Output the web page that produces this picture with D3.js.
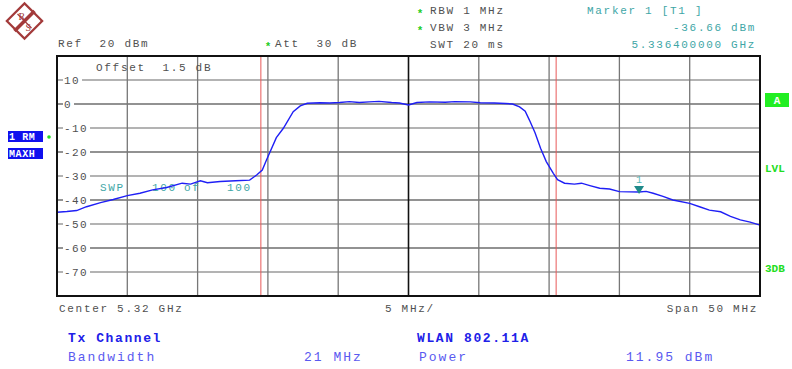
<!DOCTYPE html>
<html>
<head>
<meta charset="utf-8">
<script src="https://cdn.jsdelivr.net/npm/d3@7"></script>
<style>
  body { margin: 0; background: #fff; }
  svg { display: block; }
  text { font-family: "Liberation Mono", "DejaVu Sans Mono", monospace; }
  .hdr { font-size: 11px; letter-spacing: 1.7px; fill: #505050; }
  .teal { font-size: 11px; letter-spacing: 1.7px; fill: #3ea6a6; }
  .tick { font-size: 11px; letter-spacing: 1.4px; fill: #505050; }
  .foot { font-size: 13px; letter-spacing: 2px; fill: #5a5af0; }
  .footb { font-size: 13px; letter-spacing: 1.6px; fill: #2020e8; font-weight: bold; }
</style>
</head>
<body>
<svg id="chart" width="792" height="369"></svg>
<script>
// trace: offset from centre (MHz) and level (dBm)
const freqMHz = [-25, -24.3, -23.6, -22.9, -21.9, -21.0, -20.0, -19.1, -18.2, -17.2, -16.1, -15.5, -14.8, -14.3,
  -13.4, -12.3, -11.3, -10.8, -10.4, -10.1, -9.4, -8.9, -8.2, -7.7, -7.2, -6.3, -5.6, -4.9, -4.2, -3.5, -2.8,
  -2.1, -1.2, -0.65, 0, 0.6, 1.5, 2.6, 3.3, 4.4, 5.1, 6.1, 6.9, 7.4, 7.9, 8.3, 8.6, 9.0, 9.4, 9.8, 10.3, 10.6,
  11.1, 11.8, 12.3, 12.9, 13.6, 14.3, 15.0, 15.7, 16.4, 16.9, 17.4, 18.1, 18.8, 20.0, 20.7, 21.4, 22.2, 22.9,
  23.6, 24.3, 25];
const levelDbm = [-45.1, -44.8, -44.4, -42.8, -41.1, -39.8, -38.2, -37.2, -35.8, -34.8, -33.0, -33.4, -32.0, -32.8,
  -32.3, -32.0, -31.7, -29.6, -27.5, -23.3, -14.0, -10.1, -3.2, -0.8, 0.3, 0.5, 0.4, 0.6, 1.0, 0.6, 0.9,
  1.1, 0.6, 0.4, -0.4, 0.6, 0.9, 0.7, 1.0, 0.9, 0.5, 0.4, 0.2, 0.0, -1.2, -3.0, -6.7, -12.0, -18.5, -24.0, -28.9, -31.5,
  -33.0, -33.4, -33.0, -34.0, -35.1, -35.4, -36.5, -36.6, -36.66, -36.4, -37.2, -38.5, -40.0, -41.4, -42.8, -44.2, -44.9, -46.8,
  -48.3, -49.2, -50.5];

const xGrid = [-25, -20, -15, -10, -5, 0, 5, 10, 15, 20, 25];
const yTicks = [10, 0, -10, -20, -30, -40, -50, -60, -70];
const channelEdges = [-10.5, 10.5];
const marker = { f: 16.4, level: -36.66, label: '1' };

const svg = d3.select('#chart');
const x = d3.scaleLinear().domain([-25, 25]).range([57, 760]);
const y = d3.scaleLinear().domain([-80, 20]).range([296, 56]);

// R&S logo
const logo = svg.append('g').attr('transform', 'translate(24.5,21)');
logo.append('rect').attr('x', -12.5).attr('y', -12.5).attr('width', 25).attr('height', 25)
  .attr('transform', 'rotate(45)').attr('fill', 'none').attr('stroke', '#a33a3a').attr('stroke-width', 2.2);
logo.append('line').attr('x1', 10).attr('y1', -10).attr('x2', -10).attr('y2', 10)
  .attr('stroke', '#a33a3a').attr('stroke-width', 3.5);
logo.append('line').attr('x1', -7).attr('y1', -7).attr('x2', 7).attr('y2', 7)
  .attr('stroke', '#a33a3a').attr('stroke-width', 1.2);
logo.append('text').attr('x', -6).attr('y', -1).text('R').attr('fill', '#a33a3a')
  .style('font-size', '10px').style('font-family', 'Liberation Serif');
logo.append('text').attr('x', 1).attr('y', 10).text('S').attr('fill', '#a33a3a')
  .style('font-size', '10px').style('font-family', 'Liberation Serif');

// header
svg.append('text').attr('class', 'hdr').attr('x', 58).attr('y', 47).text('Ref  20 dBm').style('white-space', 'pre');
svg.append('text').attr('class', 'hdr').attr('x', 275).attr('y', 47).text('Att  30 dB').style('white-space', 'pre');
svg.append('text').attr('class', 'hdr').attr('x', 430).attr('y', 14).text('RBW 1 MHz');
svg.append('text').attr('class', 'hdr').attr('x', 430).attr('y', 31).text('VBW 3 MHz');
svg.append('text').attr('class', 'hdr').attr('x', 430).attr('y', 48).text('SWT 20 ms');
[[268, 44], [420, 11], [420, 28]].forEach(([cx, cy]) => {
  svg.append('text').attr('x', cx).attr('y', cy + 6).text('*').attr('text-anchor', 'middle')
    .style('font-size', '11px').attr('fill', '#22cc22').style('font-weight', 'bold');
});
svg.append('text').attr('class', 'teal').attr('x', 587).attr('y', 14).text('Marker 1 [T1 ]');
svg.append('text').attr('class', 'teal').attr('x', 756).attr('y', 31).attr('text-anchor', 'end').text('-36.66 dBm');
svg.append('text').attr('class', 'teal').attr('x', 756).attr('y', 48).attr('text-anchor', 'end').text('5.336400000 GHz');

// left side boxes
[['1 RM', 131], ['MAXH', 148]].forEach(([t, yy]) => {
  svg.append('rect').attr('x', 8).attr('y', yy).attr('width', 35).attr('height', 11).attr('fill', '#1010ee');
  svg.append('text').attr('x', 9).attr('y', yy + 9).text(t).attr('fill', '#fff')
    .style('font-size', '10px').style('font-weight', 'bold').style('letter-spacing', '0.6px');
});
svg.append('circle').attr('cx', 49).attr('cy', 137).attr('r', 1.8).attr('fill', '#22dd22');

// right side indicators
svg.append('rect').attr('x', 765).attr('y', 93).attr('width', 24).attr('height', 14).attr('fill', '#22ee22');
svg.append('text').attr('x', 777).attr('y', 104).attr('text-anchor', 'middle').text('A')
  .attr('fill', '#fff').style('font-size', '11px').style('font-weight', 'bold');
svg.append('text').attr('x', 765).attr('y', 172).text('LVL').attr('fill', '#22dd22')
  .style('font-size', '11px').style('font-weight', 'bold');
svg.append('text').attr('x', 765).attr('y', 272).text('3DB').attr('fill', '#22dd22')
  .style('font-size', '11px').style('font-weight', 'bold');

// grid
const plot = svg.append('g');
plot.selectAll('line.hg').data(yTicks).enter().append('line').attr('class', 'hg')
  .attr('x1', x(-25)).attr('x2', x(25)).attr('y1', d => y(d)).attr('y2', d => y(d))
  .attr('stroke', d => (d % 20 === 0 ? '#6e6e6e' : '#9a9a9a')).attr('stroke-width', 1.3);
plot.selectAll('line.vg').data(xGrid.slice(1, -1)).enter().append('line').attr('class', 'vg')
  .attr('y1', y(20)).attr('y2', y(-80)).attr('x1', d => x(d)).attr('x2', d => x(d))
  .attr('stroke', d => (d === 0 ? '#111' : '#777')).attr('stroke-width', d => (d === 0 ? 1.6 : 1.3));

// y labels with white background
yTicks.forEach(v => {
  const t = plot.append('text').attr('class', 'tick').attr('x', 64).attr('y', y(v) + 4).text(String(v));
  const bb = t.node().getBBox();
  plot.insert('rect', () => t.node()).attr('x', bb.x - 1).attr('y', bb.y + 1)
    .attr('width', bb.width + 3).attr('height', bb.height - 2).attr('fill', '#fff');
});

svg.append('text').attr('class', 'hdr').attr('x', 96).attr('y', 71).text('Offset  1.5 dB').style('white-space', 'pre');

// channel bandwidth lines
plot.selectAll('line.ch').data(channelEdges).enter().append('line').attr('class', 'ch')
  .attr('x1', d => x(d)).attr('x2', d => x(d)).attr('y1', y(20)).attr('y2', y(-80))
  .attr('stroke', '#e85858').attr('stroke-width', 1);

// sweep count
[['SWP', 100], ['100', 152], ['of', 184], ['100', 227]].forEach(([t, xx]) => {
  svg.append('text').attr('class', 'teal').attr('x', xx).attr('y', 191).text(t);
});

// trace
const line = d3.line().x((d, i) => x(freqMHz[i])).y(d => y(d));
svg.append('path').datum(levelDbm).attr('d', line).attr('fill', 'none')
  .attr('stroke', '#1f1ff5').attr('stroke-width', 1.4);

// marker
const mx = x(marker.f), my = y(marker.level);
svg.append('path').attr('d', `M${mx - 5},${my - 6}L${mx + 5},${my - 6}L${mx},${my + 2}Z`).attr('fill', '#1f8a8a');
svg.append('text').attr('x', mx).attr('y', my - 9).attr('text-anchor', 'middle').text(marker.label)
  .attr('fill', '#5ab8b8').style('font-size', '10px');

// frame
svg.append('rect').attr('x', x(-25)).attr('y', y(20)).attr('width', x(25) - x(-25)).attr('height', y(-80) - y(20))
  .attr('fill', 'none').attr('stroke', '#111').attr('stroke-width', 2);

// footer
svg.append('text').attr('class', 'hdr').attr('x', 59).attr('y', 312).text('Center 5.32 GHz');
svg.append('text').attr('class', 'hdr').attr('x', 385).attr('y', 312).text('5 MHz/');
svg.append('text').attr('class', 'hdr').attr('x', 758).attr('y', 312).attr('text-anchor', 'end').text('Span 50 MHz');

svg.append('text').attr('class', 'footb').attr('x', 68).attr('y', 342).text('Tx Channel');
svg.append('text').attr('class', 'footb').attr('x', 417).attr('y', 342).text('WLAN 802.11A');
svg.append('text').attr('class', 'foot').attr('x', 68).attr('y', 361).text('Bandwidth');
svg.append('text').attr('class', 'foot').attr('x', 304).attr('y', 361).text('21 MHz');
svg.append('text').attr('class', 'foot').attr('x', 419).attr('y', 361).text('Power');
svg.append('text').attr('class', 'foot').attr('x', 626).attr('y', 361).text('11.95 dBm');
</script>
</body>
</html>
